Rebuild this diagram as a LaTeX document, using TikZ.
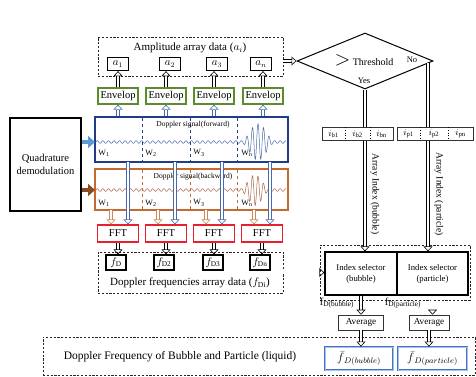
\documentclass[tikz,border=0pt]{standalone}
\usepackage{fontspec}
\setmainfont{Liberation Serif}
\usetikzlibrary{arrows.meta,shapes.geometric,positioning}

\definecolor{fwdblue}{HTML}{1F3C88}
\definecolor{bwdorange}{HTML}{C46A30}
\definecolor{envgreen}{HTML}{5F8A2F}
\definecolor{fftred}{HTML}{E8202A}
\definecolor{arrblue}{HTML}{4A68AC}
\definecolor{arrorange}{HTML}{C8885A}
\definecolor{quadblue}{HTML}{5B9BD5}
\definecolor{quadbrown}{HTML}{8B4A1C}
\definecolor{wavefwd}{HTML}{4A6AA8}
\definecolor{wavebwd}{HTML}{A5684A}
\definecolor{resblue}{HTML}{4472C4}
\definecolor{resinner}{HTML}{A8C0E8}

\begin{document}
\begin{tikzpicture}[x=1pt,y=-1pt,
  dashbox/.style={draw=black!85, line width=0.9pt, dash pattern=on 2.2pt off 1.6pt, inner sep=0pt},
  abox/.style={draw=black, line width=1.3pt, minimum width=21pt, minimum height=13pt, inner sep=0pt, font=\fontsize{10.5}{11}\selectfont},
  envbox/.style={draw=envgreen, line width=1.3pt, minimum width=40pt, minimum height=16pt, inner sep=0pt, font=\fontsize{10.5}{11}\selectfont},
  fftbox/.style={draw=fftred, line width=1.3pt, minimum width=41pt, minimum height=17pt, inner sep=0pt, font=\fontsize{10.5}{11}\selectfont},
  sigbox/.style={line width=1.6pt, minimum width=193pt, inner sep=0pt},
  plainbox/.style={draw=black!80, line width=0.6pt, inner sep=0pt},
  lbl/.style={inner sep=0pt, font=\fontsize{11}{12}\selectfont},
  sigtxt/.style={inner sep=0pt, font=\fontsize{7.5}{8}\selectfont},
  wtxt/.style={inner sep=0pt, font=\fontsize{8}{9}\selectfont},
  cell/.style={minimum height=13pt, inner sep=0pt, font=\fontsize{9.5}{10}\selectfont},
  hollow/.style={double=white, double distance=2.6pt, line width=0.6pt, -{Triangle[open,length=5pt,width=9pt]}},
  dline/.style={double=white, double distance=2.6pt, line width=0.6pt},
]
\useasboundingbox (0,0) rectangle (476,376);

% amplitude array
\node[dashbox, minimum width=185pt, minimum height=39pt] (amp) at (190.5,56.5) {};
\node[lbl] (amptitle) at (190,48) {Amplitude array data ($a_i$)};
\node[abox] (a1) at (118,64) {$a_1$};
\node[abox] (a2) at (170,64) {$a_2$};
\node[abox] (a3) at (217,64) {$a_3$};
\node[abox] (an) at (261,64) {$a_n$};

\node[envbox] (env1) at (118,96) {Envelop};
\node[envbox] (env2) at (166,96) {Envelop};
\node[envbox] (env3) at (214,96) {Envelop};
\node[envbox] (env4) at (263,96) {Envelop};

% signals
\node[draw=black, line width=1.3pt, minimum width=71pt, minimum height=93pt, align=center, inner sep=0pt, font=\fontsize{10.5}{12.5}\selectfont] (quad) at (45.5,164.5) {Quadrature\\demodulation};
\node[sigbox, draw=fwdblue, minimum height=45pt] (fwd) at (191.5,139.5) {};
\node[sigbox, draw=bwdorange, minimum height=41pt] (bwd) at (191.5,189.5) {};
\coordinate (fin) at (95,142);
\coordinate (bin) at (95,190);
\draw[line width=4.5pt, quadblue, -{Triangle[length=7pt,width=12pt]}] (quad.east |- fin) -- (fin);
\draw[line width=4.5pt, quadbrown, -{Triangle[length=7pt,width=12pt]}] (quad.east |- bin) -- (bin);

\draw[wavefwd, line width=0.5pt] plot[domain=0:190, samples=600] ({96+\x}, {142-(1.3+17*max(0,1-((\x-162)/16)^2)^2)*sin(\x*65)});
\draw[wavebwd, line width=0.5pt] plot[domain=0:190, samples=600] ({96+\x}, {190-(1.3+14*max(0,1-((\x-159)/14)^2)^2)*sin(\x*65)});

\foreach \xx in {142,190,237} {
  \draw[fwdblue, dashed, line width=0.9pt] (\xx,118) -- (\xx,161);
  \draw[bwdorange, dashed, line width=0.9pt] (\xx,170) -- (\xx,209);
}
\node[sigtxt] (fwdlbl) at (193,125) {Doppler signal(forward)};
\node[sigtxt] (bwdlbl) at (193,177) {Doppler signal(backward)};
\node[wtxt] (wf1) at (104,153) {W\textsubscript{1}};
\node[wtxt] (wf2) at (151,153) {W\textsubscript{2}};
\node[wtxt] (wf3) at (199,153) {W\textsubscript{3}};
\node[wtxt] (wfn) at (247,153) {W\textsubscript{n}};
\node[wtxt] (wb1) at (104,203) {W\textsubscript{1}};
\node[wtxt] (wb2) at (151,203) {W\textsubscript{2}};
\node[wtxt] (wb3) at (199,203) {W\textsubscript{3}};
\node[wtxt] (wbn) at (247,203) {W\textsubscript{n}};

% FFT and doppler array
\node[fftbox] (fft1) at (118,233.5) {FFT};
\node[fftbox] (fft2) at (166,233.5) {FFT};
\node[fftbox] (fft3) at (214,233.5) {FFT};
\node[fftbox] (fft4) at (262,233.5) {FFT};

\node[dashbox, minimum width=185pt, minimum height=41pt] (fdbox) at (190.5,272.5) {};
\node[abox, minimum width=20pt, minimum height=15pt] (fd1) at (116,262.5) {$f_{\mathrm{D}}$};
\node[abox, minimum width=20pt, minimum height=15pt] (fd2) at (164,262.5) {$f_{\mathrm{D2}}$};
\node[abox, minimum width=20pt, minimum height=15pt] (fd3) at (213,262.5) {$f_{\mathrm{D3}}$};
\node[abox, minimum width=20pt, minimum height=15pt] (fdn) at (260,262.5) {$f_{\mathrm{Dn}}$};
\node[lbl] (fdtitle) at (190,283) {Doppler frequencies array data ($f_{\mathrm{Di}}$)};

\coordinate (fs1) at (128,162);
\coordinate (fs2) at (175,162);
\coordinate (fs3) at (222,162);
\coordinate (fs4) at (270,162);
\coordinate (bs1) at (111,210);
\coordinate (bs2) at (158,210);
\coordinate (bs3) at (206,210);
\coordinate (bs4) at (254,210);

\draw[hollow, arrblue] (fs1) -- (fs1 |- fft1.north);
\draw[hollow, arrblue] (fs2) -- (fs2 |- fft2.north);
\draw[hollow, arrblue] (fs3) -- (fs3 |- fft3.north);
\draw[hollow, arrblue] (fs4) -- (fs4 |- fft4.north);
\draw[hollow, arrorange] (bs1) -- (bs1 |- fft1.north);
\draw[hollow, arrorange] (bs2) -- (bs2 |- fft2.north);
\draw[hollow, arrorange] (bs3) -- (bs3 |- fft3.north);
\draw[hollow, arrorange] (bs4) -- (bs4 |- fft4.north);

\draw[hollow, arrblue] (fwd.north -| env1) -- (env1.south);
\draw[hollow, arrblue] (fwd.north -| env2) -- (env2.south);
\draw[hollow, arrblue] (fwd.north -| env3) -- (env3.south);
\draw[hollow, arrblue] (fwd.north -| env4) -- (env4.south);
\draw[hollow] (env1.north) -- (env1.north |- a1.south);
\draw[hollow] (env2.north) -- (env2.north |- a2.south);
\draw[hollow] (env3.north) -- (env3.north |- a3.south);
\draw[hollow] (env4.north) -- (env4.north |- an.south);
\draw[hollow] (fft1.south) -- (fft1.south |- fd1.north);
\draw[hollow] (fft2.south) -- (fft2.south |- fd2.north);
\draw[hollow] (fft3.south) -- (fft3.south |- fd3.north);
\draw[hollow] (fft4.south) -- (fft4.south |- fdn.north);

% threshold
\node[draw=black, line width=1pt, diamond, minimum width=136pt, minimum height=56pt, inner sep=0pt] (thr) at (365,61) {};
\node[inner sep=0pt, font=\fontsize{10}{11}\selectfont] (thrtxt) at (364,60) {{\fontsize{20}{20}\selectfont$>$} Threshold};
\node[inner sep=0pt, font=\fontsize{8.5}{9}\selectfont] (no) at (412,60) {No};
\node[inner sep=0pt, font=\fontsize{8.5}{9}\selectfont] (yes) at (364,81) {Yes};
\draw[hollow] (amp.east |- thr.west) -- (thr.west);

% index arrays
\node[cell, minimum width=23pt] (ib1) at (333.5,134) {$i_{\mathrm{b1}}$};
\node[cell, minimum width=25pt] (ib2) at (357.5,134) {$i_{\mathrm{b2}}$};
\node[cell, minimum width=23pt] (ibn) at (381.5,134) {$i_{\mathrm{bn}}$};
\node[cell, minimum width=23pt] (ip1) at (408.5,134) {$i_{\mathrm{p1}}$};
\node[cell, minimum width=28pt] (ip2) at (434,134) {$i_{\mathrm{p2}}$};
\node[cell, minimum width=25pt] (ipn) at (460.5,134) {$i_{\mathrm{pn}}$};
\draw[black!80, line width=0.6pt] (ib1.north west) rectangle (ibn.south east);
\draw[black!80, line width=0.6pt] (ip1.north west) rectangle (ipn.south east);
\draw[dotted, line width=0.7pt] (ib1.north east) -- (ib1.south east);
\draw[dotted, line width=0.7pt] (ib2.north east) -- (ib2.south east);
\draw[dotted, line width=0.7pt] (ip1.north east) -- (ip1.south east);
\draw[dotted, line width=0.7pt] (ip2.north east) -- (ip2.south east);

% selector
\node[dashbox, minimum width=150pt, minimum height=55pt] (seldash) at (395,272.5) {};
\node[draw=black, line width=1.3pt, minimum width=72pt, minimum height=43pt, align=center, inner sep=0pt, font=\fontsize{8.7}{11}\selectfont] (selb) at (361,273.5) {Index selector\\(bubble)};
\node[draw=black, line width=1.3pt, minimum width=71pt, minimum height=43pt, align=center, inner sep=0pt, font=\fontsize{8.7}{11}\selectfont] (selp) at (432.5,273.5) {Index selector\\(particle)};
\draw[hollow] (fdbox.east) -- (fdbox.east -| selb.west);

\coordinate (nopt) at (428,63);
\draw[dline] (thr.south) -- (thr.south |- ib2.north);
\draw[dline] (nopt) -- (nopt |- ip2.north);
\draw[hollow] (thr.south |- ib2.south) -- (thr.south |- selb.north);
\draw[hollow] (nopt |- ip2.south) -- (nopt |- selp.north);
\node[inner sep=0pt, font=\fontsize{9.5}{10}\selectfont, rotate=-90] (aib) at (375,194) {Array Index (bubble)};
\node[inner sep=0pt, font=\fontsize{9.5}{10}\selectfont, rotate=-90] (aip) at (439,194) {Array Index (particle)};

% average
\node[plainbox, minimum width=45pt, minimum height=15pt, font=\fontsize{9.2}{10}\selectfont] (avb) at (361,322.5) {Average};
\node[plainbox, minimum width=40pt, minimum height=15pt, font=\fontsize{9.2}{10}\selectfont] (avp) at (429,322.5) {Average};
\draw[hollow] (selb.south) -- (selb.south |- avb.north);
\draw[hollow] (selp.south) -- (selp.south |- avp.north);
\node[inner sep=0pt, font=\fontsize{10.5}{11}\selectfont] (fdb) at (337,303) {f\textsubscript{D(bubble)}};
\node[inner sep=0pt, font=\fontsize{10.5}{11}\selectfont] (fdp) at (403,303) {f\textsubscript{D(particle)}};

% result
\node[dashbox, minimum width=432pt, minimum height=38pt] (res) at (259,356) {};
\node[lbl, font=\fontsize{11.5}{12}\selectfont] (restxt) at (180,357) {Doppler Frequency of Bubble and Particle (liquid)};
\node[draw=resblue, double=resinner, double distance=0.8pt, line width=0.9pt, minimum width=68pt, minimum height=23pt, inner sep=0pt, font=\fontsize{12}{13}\selectfont] (fb) at (359,358.5) {$\bar{f}_{\,D(bubble)}$};
\node[draw=resblue, double=resinner, double distance=0.8pt, line width=0.9pt, minimum width=69pt, minimum height=23pt, inner sep=0pt, font=\fontsize{12}{13}\selectfont] (fp) at (432.5,358.5) {$\bar{f}_{\,D(particle)}$};
\draw[hollow] (avb.south) -- (avb.south |- fb.north);
\draw[hollow] (avp.south) -- (avp.south |- fp.north);
\end{tikzpicture}
\end{document}
